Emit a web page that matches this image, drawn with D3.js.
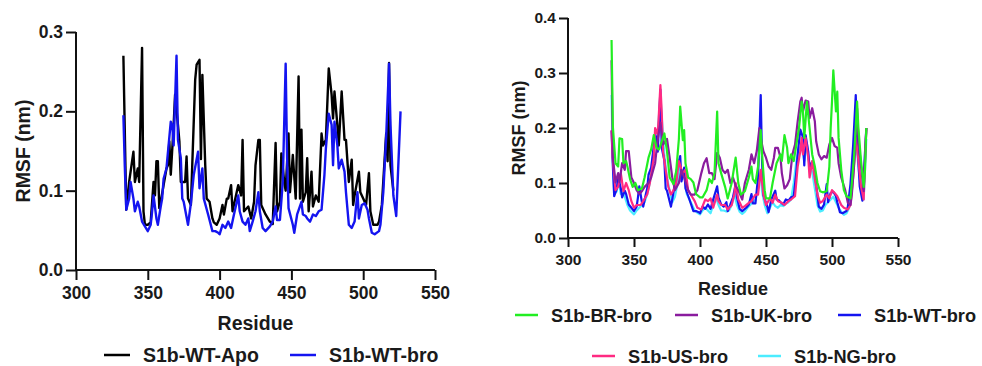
<!DOCTYPE html>
<html>
<head>
<meta charset="utf-8">
<script src="https://cdn.jsdelivr.net/npm/d3@7"></script>
<style>
html,body{margin:0;padding:0;background:#fff;}
svg text{font-family:"Liberation Sans",Arial,sans-serif;font-weight:bold;fill:#1a1a1a;}
</style>
</head>
<body>
<svg id="chart" width="982" height="366"></svg>
<script>
// ---------- data (residue, RMSF nm) ----------
const xTicks = [300, 350, 400, 450, 500, 550];
const yTicksLeft = [0.0, 0.1, 0.2, 0.3];
const yTicksRight = [0.0, 0.1, 0.2, 0.3, 0.4];

const wtApo = [[333,0.27],[335,0.076],[337,0.111],[340,0.149],[341,0.111],[343,0.128],[344,0.111],[346,0.28],[347,0.074],[348,0.057],[350,0.057],[352,0.06],[354,0.111],[355,0.094],[356,0.137],[357,0.137],[358,0.078],[359,0.086],[361,0.107],[363,0.128],[364,0.132],[365,0.162],[366,0.12],[368,0.183],[369,0.221],[371,0.183],[372,0.162],[373,0.111],[376,0.111],[377,0.143],[378,0.09],[380,0.082],[383,0.24],[384,0.259],[386,0.265],[387,0.14],[388,0.246],[390,0.132],[391,0.09],[393,0.086],[395,0.065],[396,0.06],[398,0.057],[400,0.065],[402,0.082],[403,0.07],[405,0.09],[406,0.09],[408,0.107],[409,0.074],[413,0.107],[415,0.094],[416,0.164],[417,0.074],[420,0.08],[422,0.065],[424,0.086],[425,0.132],[427,0.164],[428,0.164],[429,0.082],[432,0.07],[435,0.061],[437,0.058],[439,0.16],[440,0.074],[442,0.086],[443,0.147],[445,0.111],[446,0.1],[448,0.172],[449,0.098],[451,0.145],[453,0.09],[455,0.244],[456,0.09],[457,0.177],[458,0.086],[460,0.098],[461,0.141],[462,0.074],[464,0.124],[465,0.08],[467,0.094],[469,0.086],[471,0.172],[472,0.157],[474,0.164],[476,0.254],[478,0.221],[479,0.191],[480,0.225],[482,0.183],[483,0.157],[485,0.225],[487,0.164],[488,0.164],[490,0.111],[492,0.139],[493,0.082],[494,0.094],[497,0.124],[498,0.098],[500,0.09],[502,0.082],[504,0.122],[505,0.074],[507,0.057],[510,0.057],[511,0.061],[513,0.082],[516,0.172],[517,0.137],[518,0.261],[519,0.132],[521,0.1]];

const wtBro = [[333,0.195],[334,0.13],[335,0.076],[337,0.09],[338,0.111],[340,0.09],[341,0.074],[343,0.086],[344,0.08],[346,0.061],[350,0.049],[352,0.057],[353,0.074],[354,0.094],[356,0.065],[357,0.057],[359,0.08],[360,0.09],[361,0.115],[363,0.128],[366,0.187],[367,0.183],[368,0.157],[370,0.27],[371,0.164],[373,0.141],[374,0.09],[375,0.086],[378,0.057],[380,0.084],[382,0.12],[385,0.149],[386,0.103],[388,0.128],[389,0.09],[392,0.07],[395,0.049],[397,0.049],[399,0.047],[400,0.045],[402,0.057],[404,0.053],[406,0.061],[408,0.053],[410,0.07],[413,0.094],[414,0.074],[416,0.061],[418,0.057],[420,0.065],[421,0.049],[423,0.061],[425,0.074],[427,0.098],[428,0.074],[430,0.053],[432,0.049],[435,0.055],[437,0.061],[439,0.08],[440,0.063],[442,0.063],[444,0.111],[446,0.26],[447,0.141],[448,0.078],[451,0.057],[452,0.047],[454,0.07],[457,0.086],[458,0.07],[460,0.068],[461,0.065],[463,0.061],[465,0.07],[467,0.068],[469,0.074],[471,0.076],[473,0.12],[474,0.153],[476,0.197],[478,0.183],[479,0.132],[480,0.187],[482,0.157],[483,0.128],[485,0.139],[487,0.124],[488,0.098],[490,0.057],[492,0.053],[494,0.061],[496,0.098],[497,0.065],[499,0.082],[501,0.084],[503,0.076],[504,0.065],[506,0.047],[508,0.045],[511,0.049],[512,0.057],[514,0.098],[516,0.168],[518,0.26],[519,0.183],[521,0.094],[523,0.068],[526,0.2]];

const brBro = [[333,0.36],[334,0.202],[336,0.136],[338,0.13],[339,0.181],[341,0.18],[342,0.136],[344,0.14],[345,0.13],[347,0.107],[349,0.093],[351,0.1],[353,0.087],[356,0.09],[358,0.11],[361,0.146],[363,0.161],[365,0.187],[367,0.164],[369,0.161],[373,0.19],[375,0.158],[377,0.11],[380,0.098],[382,0.122],[384,0.18],[385,0.239],[387,0.178],[388,0.196],[389,0.136],[391,0.11],[393,0.107],[395,0.101],[397,0.08],[400,0.074],[402,0.074],[405,0.087],[407,0.107],[409,0.1],[411,0.118],[413,0.23],[414,0.136],[416,0.118],[419,0.093],[421,0.072],[424,0.1],[427,0.146],[429,0.1],[431,0.079],[434,0.085],[437,0.11],[439,0.13],[440,0.107],[442,0.1],[444,0.13],[446,0.196],[447,0.152],[449,0.087],[450,0.072],[453,0.072],[455,0.1],[458,0.136],[461,0.152],[462,0.14],[464,0.187],[466,0.164],[467,0.136],[469,0.152],[471,0.14],[473,0.17],[475,0.2],[477,0.248],[478,0.23],[479,0.182],[481,0.248],[483,0.2],[485,0.152],[487,0.13],[489,0.1],[491,0.085],[493,0.083],[496,0.085],[498,0.13],[499,0.2],[500,0.248],[501,0.305],[503,0.23],[504,0.266],[505,0.182],[507,0.124],[509,0.087],[511,0.076],[514,0.072],[515,0.1],[517,0.158],[519,0.248],[520,0.2],[522,0.14],[524,0.093],[525,0.124],[526,0.2]];

const ukBro = [[333,0.323],[334,0.146],[336,0.101],[338,0.118],[339,0.101],[341,0.136],[343,0.124],[344,0.158],[346,0.158],[348,0.11],[350,0.1],[352,0.087],[354,0.08],[356,0.085],[358,0.093],[361,0.1],[363,0.11],[366,0.136],[368,0.18],[370,0.21],[372,0.17],[375,0.18],[377,0.146],[379,0.11],[381,0.087],[384,0.1],[386,0.124],[388,0.11],[391,0.087],[393,0.079],[396,0.079],[398,0.087],[401,0.118],[403,0.136],[405,0.145],[407,0.118],[409,0.118],[411,0.107],[413,0.155],[415,0.146],[417,0.124],[419,0.118],[421,0.124],[423,0.1],[425,0.11],[427,0.095],[429,0.087],[432,0.07],[434,0.1],[437,0.124],[439,0.152],[441,0.136],[443,0.158],[445,0.2],[446,0.182],[448,0.158],[450,0.146],[452,0.13],[454,0.124],[456,0.146],[457,0.164],[459,0.164],[461,0.146],[462,0.118],[464,0.09],[466,0.096],[468,0.107],[470,0.152],[472,0.17],[474,0.212],[476,0.248],[477,0.255],[478,0.23],[480,0.25],[482,0.248],[483,0.218],[485,0.236],[487,0.212],[488,0.176],[490,0.152],[492,0.143],[494,0.149],[496,0.146],[498,0.17],[500,0.182],[502,0.167],[504,0.164],[505,0.136],[507,0.11],[510,0.087],[512,0.064],[514,0.06],[515,0.079],[517,0.14],[519,0.236],[520,0.182],[522,0.13],[524,0.085],[525,0.14],[526,0.2]];

const usBro = [[333,0.196],[334,0.14],[336,0.087],[338,0.093],[340,0.118],[342,0.085],[344,0.1],[346,0.087],[348,0.067],[350,0.055],[352,0.06],[355,0.06],[357,0.067],[360,0.079],[362,0.1],[365,0.146],[366,0.2],[368,0.188],[370,0.278],[371,0.23],[372,0.158],[374,0.124],[376,0.093],[378,0.079],[380,0.087],[382,0.1],[384,0.14],[386,0.124],[387,0.118],[389,0.124],[391,0.087],[393,0.079],[396,0.067],[398,0.055],[401,0.052],[404,0.07],[406,0.067],[408,0.072],[410,0.055],[413,0.079],[414,0.067],[416,0.06],[419,0.06],[421,0.052],[424,0.06],[426,0.079],[427,0.1],[429,0.07],[432,0.055],[434,0.058],[437,0.064],[439,0.067],[442,0.079],[444,0.079],[446,0.124],[448,0.079],[450,0.06],[453,0.072],[455,0.064],[457,0.079],[459,0.067],[462,0.064],[464,0.06],[467,0.067],[469,0.07],[472,0.076],[474,0.13],[476,0.158],[477,0.182],[478,0.152],[480,0.182],[482,0.146],[483,0.11],[485,0.14],[487,0.107],[489,0.079],[491,0.064],[493,0.067],[496,0.079],[498,0.072],[500,0.087],[502,0.082],[504,0.076],[507,0.06],[509,0.055],[512,0.052],[514,0.06],[516,0.11],[518,0.182],[520,0.14],[522,0.093],[524,0.07],[525,0.14],[526,0.2]];

const ngBro = [[333,0.26],[334,0.14],[335,0.08],[337,0.085],[338,0.11],[340,0.08],[341,0.09],[343,0.075],[345,0.06],[347,0.05],[350,0.043],[352,0.05],[354,0.055],[356,0.06],[358,0.065],[360,0.08],[362,0.1],[364,0.14],[366,0.18],[368,0.19],[370,0.26],[371,0.22],[373,0.15],[375,0.11],[377,0.085],[379,0.065],[381,0.075],[383,0.1],[385,0.13],[386,0.11],[388,0.115],[390,0.08],[392,0.07],[394,0.06],[396,0.05],[398,0.046],[400,0.043],[402,0.05],[404,0.055],[406,0.05],[408,0.045],[410,0.06],[412,0.075],[414,0.06],[416,0.05],[418,0.05],[420,0.048],[422,0.05],[424,0.06],[426,0.08],[428,0.06],[430,0.048],[432,0.044],[434,0.048],[436,0.055],[438,0.06],[440,0.065],[442,0.07],[444,0.09],[446,0.12],[447,0.085],[449,0.06],[451,0.045],[453,0.055],[455,0.065],[457,0.058],[459,0.055],[461,0.06],[463,0.058],[465,0.062],[467,0.065],[469,0.07],[471,0.1],[473,0.14],[475,0.16],[477,0.17],[479,0.14],[481,0.17],[483,0.13],[485,0.12],[487,0.09],[489,0.06],[491,0.048],[493,0.05],[495,0.06],[497,0.065],[499,0.07],[501,0.075],[503,0.065],[505,0.055],[507,0.048],[509,0.042],[511,0.045],[513,0.055],[515,0.1],[517,0.16],[518,0.18],[520,0.13],[522,0.09],[524,0.07],[526,0.18]];

const leftSeries = [
  {name:"S1b-WT-Apo", data:wtApo, color:"#000000"},
  {name:"S1b-WT-bro", data:wtBro, color:"#1414f0"}
];
const rightSeries = [
  {name:"S1b-NG-bro", data:ngBro, color:"#4cecff"},
  {name:"S1b-WT-bro", data:wtBro, color:"#1414f0"},
  {name:"S1b-US-bro", data:usBro, color:"#ff2a82"},
  {name:"S1b-UK-bro", data:ukBro, color:"#8a1c9e"},
  {name:"S1b-BR-bro", data:brBro, color:"#22ee22"}
];
const rightLegendOrder = ["S1b-BR-bro","S1b-UK-bro","S1b-WT-bro","S1b-US-bro","S1b-NG-bro"];

// ---------- drawing ----------
const svg = d3.select("#chart");
const fmt = d3.format(".1f");

function panel(cfg){
  const g = svg.append("g");
  const x = d3.scaleLinear().domain([300,550]).range([cfg.x0, cfg.x1]);
  const y = d3.scaleLinear().domain([0, cfg.ymax]).range([cfg.y0, cfg.y1]);
  const line = d3.line().x(d=>x(d[0])).y(d=>y(d[1]));
  cfg.series.forEach(s=>{
    g.append("path").datum(s.data)
      .attr("d", line).attr("fill","none")
      .attr("stroke", s.color).attr("stroke-width", cfg.lw)
      .attr("stroke-linejoin","round");
  });
  const xa = g.append("g").attr("transform",`translate(0,${cfg.y0})`)
    .call(d3.axisBottom(x).tickValues(xTicks).tickSize(cfg.tick).tickPadding(cfg.xpad).tickFormat(d3.format("d")));
  const ya = g.append("g").attr("transform",`translate(${cfg.x0},0)`)
    .call(d3.axisLeft(y).tickValues(cfg.yticks).tickSize(cfg.tick).tickPadding(cfg.ypad).tickFormat(fmt));
  [xa, ya].forEach(a=>{
    a.select(".domain").attr("stroke","#111").attr("stroke-width",2);
    a.selectAll(".tick line").attr("stroke","#111").attr("stroke-width",2);
    a.selectAll("text").attr("font-size", cfg.tfs).attr("fill","#1a1a1a")
      .attr("font-family","Liberation Sans, Arial, sans-serif").attr("font-weight","bold");
  });
  xa.select(".domain").attr("d", `M${cfg.x0},0H${cfg.x1}`);
  ya.select(".domain").attr("d", `M0,${cfg.y0}V${cfg.y1}`);
  g.append("text").attr("x", (cfg.x0+cfg.x1)/2).attr("y", cfg.xtY)
    .attr("text-anchor","middle").attr("font-size", cfg.afs).text("Residue");
  g.append("text").attr("transform",`translate(${cfg.ytX},${(cfg.y0+cfg.y1)/2}) rotate(-90)`)
    .attr("text-anchor","middle").attr("font-size", cfg.afs).text("RMSF (nm)");
  return {x,y};
}

panel({x0:76, x1:435, y0:270, y1:32, ymax:0.3, yticks:yTicksLeft, series:leftSeries,
  lw:2.4, tick:10, xpad:7, ypad:3, tfs:17.5, afs:19.5, xtY:330, ytX:30});
panel({x0:568, x1:898, y0:238, y1:18, ymax:0.4, yticks:yTicksRight, series:rightSeries,
  lw:2.2, tick:9, xpad:7, ypad:3, tfs:15.5, afs:18, xtY:295, ytX:525});

// legends
function legendItem(lx, ly, name, color, fs, len){
  const g = svg.append("g");
  g.append("line").attr("x1", lx).attr("x2", lx+len).attr("y1", ly).attr("y2", ly)
    .attr("stroke", color).attr("stroke-width", 2.5);
  g.append("text").attr("x", lx+len+13).attr("y", ly+6.5).attr("font-size", fs).text(name);
}
const leftPos = [[104,355],[290,355]];
leftSeries.forEach((s,i)=>legendItem(leftPos[i][0], leftPos[i][1], s.name, s.color, 19.5, 26));

const rightPos = {"S1b-BR-bro":[515,315],"S1b-UK-bro":[675,315],"S1b-WT-bro":[838,315],"S1b-US-bro":[592,356],"S1b-NG-bro":[758,356]};
rightLegendOrder.forEach(n=>{
  const s = rightSeries.find(d=>d.name===n);
  legendItem(rightPos[n][0], rightPos[n][1], s.name, s.color, 18.2, 23);
});
</script>
</body>
</html>
